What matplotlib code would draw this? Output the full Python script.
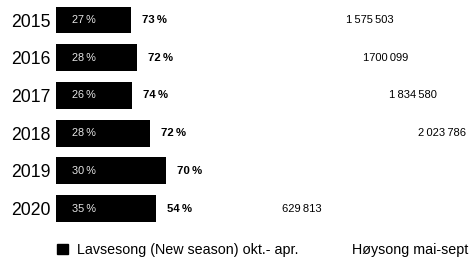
import matplotlib
matplotlib.use("Agg")
import matplotlib.pyplot as plt
from matplotlib.patches import Patch

plt.rcParams['font.family'] = ['Liberation Sans', 'DejaVu Sans']

years = ["2015", "2016", "2017", "2018", "2019", "2020"]
lav_share = ["27\u2009%", "28\u2009%", "26\u2009%", "28\u2009%", "30\u2009%", "35\u2009%"]
hoy_share = ["73\u2009%", "72\u2009%", "74\u2009%", "72\u2009%", "70\u2009%", "54\u2009%"]
totals = ["1\u2009575\u2009503", "1700\u2009099", "1\u2009834\u2009580", "2\u2009023\u2009786", "", "629\u2009813"]
lav_values = [75, 81, 76, 94, 110, 100]
hoy_values = [239, 249, 281, 292, 0, 146]

fig = plt.figure(figsize=(4.75, 2.58), dpi=100)
ax = fig.add_axes([56/475, 1 - 227.4/258, 419/475, 226.2/258])

y = list(range(len(years)))
ax.barh(y, lav_values, height=0.71, color="black", label="Lavsesong (New season) okt.- apr.")
ax.barh(y, hoy_values, left=lav_values, height=0.71, color="white",
        label="Høysong mai-sept")

for i in y:
    ax.annotate(lav_share[i], (0, i), xytext=(11.3, 0), textcoords="offset points",
                ha="left", va="center", color="#e6e6e6", fontsize=7.8)
    ax.annotate(hoy_share[i], (lav_values[i], i), xytext=(7.6, 0), textcoords="offset points",
                ha="left", va="center", color="black", fontsize=8.2, fontweight="bold")
    if totals[i]:
        ax.annotate(totals[i], (lav_values[i] + hoy_values[i], i), ha="center", va="center",
                    color="black", fontsize=8)

ax.set_xlim(0, 419)
ax.set_ylim(len(years) - 0.5, -0.5)
ax.set_yticks(y)
ax.set_yticklabels(years, fontsize=12.7)
ax.tick_params(axis="y", length=0, pad=4)
ax.set_xticks([])
for s in ax.spines.values():
    s.set_visible(False)

handles = [Patch(facecolor="black", edgecolor="black"),
           Patch(facecolor="white", edgecolor="white")]
fig.legend(handles, ["Lavsesong (New season) okt.- apr.", "Høysong mai-sept"],
           loc="center left", bbox_to_anchor=(57/475, 1 - 250/258), ncol=2, frameon=False,
           fontsize=10.3, handlelength=0.78, handleheight=0.78, handletextpad=0.65,
           columnspacing=2.3, borderpad=0, borderaxespad=0)

fig.savefig("out.png", dpi=100)
